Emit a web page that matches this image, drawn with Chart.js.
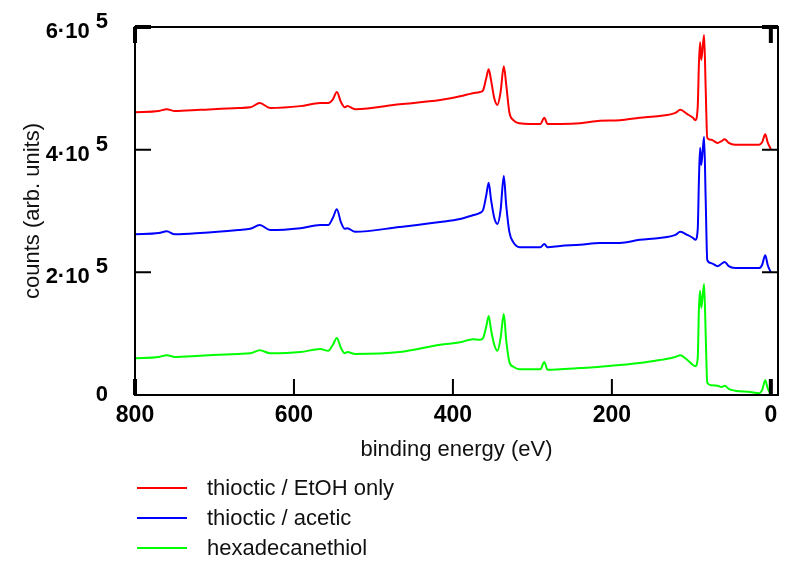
<!DOCTYPE html>
<html><head><meta charset="utf-8">
<script src="https://cdn.jsdelivr.net/npm/chart.js@4.4.0/dist/chart.umd.min.js"></script>
<style>
html,body{margin:0;padding:0;background:#fff;}
#wrap{position:relative;width:785px;height:563px;}
#legend{position:absolute;left:137px;top:473px;font-family:"Liberation Sans",Arial,sans-serif;font-size:22px;color:#111;}
.row{display:flex;align-items:center;height:30px;}
.swatch{width:50px;height:2px;margin-right:20px;}
</style></head><body>
<div id="wrap"><canvas id="c" width="785" height="563"></canvas><div id="legend"></div></div>
<script>
// binding energy (eV)
const energy = [800,770,760,750,718,670,655,643,630,592,567,557,551,546,541,536,533,523,467,416,391,375,366,362,358,355,352,348,344,340,336,333,329,324,316,303,290,285,281,265,240,215,190,165,140,120,114,105,98,95,92,90.5,89,87.5,84,82,80,75,67,62,58,53,45,26,15,11,7,4,0];
// counts
const thiocticEtOH = [461e3,463e3,466e3,463e3,465e3,468e3,469e3,476e3,468e3,471e3,476e3,476e3,482e3,494e3,478e3,469e3,471e3,466e3,474e3,481e3,487e3,492e3,494e3,497e3,517e3,531e3,513e3,484e3,473e3,494e3,536e3,507e3,461e3,448e3,443e3,442e3,442e3,452e3,442e3,442e3,443e3,447e3,448e3,452e3,455e3,460e3,465e3,458e3,452e3,448e3,470e3,540e3,575e3,546e3,587e3,500e3,419e3,416e3,411e3,414e3,417e3,411e3,408e3,408e3,408e3,412e3,425e3,412e3,401e3];
const thiocticAcetic = [262e3,264e3,267e3,262e3,264e3,269e3,271e3,277e3,269e3,272e3,277e3,277e3,289e3,303e3,282e3,271e3,272e3,266e3,274e3,282e3,287e3,293e3,297e3,302e3,326e3,346e3,318e3,289e3,279e3,302e3,357e3,310e3,266e3,249e3,241e3,241e3,241e3,246e3,241e3,243e3,245e3,248e3,248e3,253e3,256e3,261e3,266e3,261e3,256e3,253e3,270e3,350e3,403e3,375e3,421e3,320e3,220e3,215e3,210e3,214e3,217e3,210e3,207e3,207e3,207e3,212e3,228e3,212e3,200e3];
const hexadecanethiol = [60e3,62e3,65e3,62e3,64e3,67e3,68e3,73e3,68e3,70e3,75e3,72e3,82e3,93e3,77e3,68e3,70e3,67e3,70e3,82e3,86e3,91e3,90e3,93e3,112e3,129e3,106e3,82e3,72e3,93e3,132e3,90e3,54e3,46e3,42e3,42e3,42e3,54e3,41e3,42e3,44e3,46e3,49e3,52e3,57e3,62e3,65e3,57e3,49e3,47e3,60e3,140e3,170e3,142e3,181e3,100e3,20e3,16e3,15e3,13e3,15e3,10e3,7e3,5e3,3e3,8e3,24e3,11e3,0];
const seriesNames = ['thioctic / EtOH only','thioctic / acetic','hexadecanethiol'];
const seriesColors = ['#ff0000','#0000ff','#00ff00'];
const xTickValues = [800,600,400,200,0];
const xTickLabels = ['800','600','400','200','0'];
const yTickValues = [0,200000,400000,600000];
// exponent line above mantissa line
const yTickLabels = [['0'],['5','2·10   '],['5','4·10   '],['5','6·10   ']];

const seriesValues = [thiocticEtOH, thiocticAcetic, hexadecanethiol];
const datasets = seriesValues.map((vals,i)=>({
  label: seriesNames[i],
  data: energy.map((e,j)=>({x:e,y:vals[j]})),
  borderColor: seriesColors[i],
  backgroundColor: seriesColors[i],
  borderWidth: 2,
  pointRadius: 0,
  fill: false,
  cubicInterpolationMode: 'monotone'
}));

const frameTicks = {
  id:'frameTicks',
  afterDatasetsDraw(chart){
    const {ctx, chartArea:a, scales:{x,y}} = chart;
    ctx.save();
    ctx.strokeStyle='#000';
    ctx.lineWidth=2;
    ctx.strokeRect(a.left,a.top,a.right-a.left,a.bottom-a.top);
    const L=16;
    ctx.beginPath();
    yTickValues.forEach(v=>{
      if(v===yTickValues[0]||v===yTickValues[yTickValues.length-1]) return;
      const py=y.getPixelForValue(v);
      ctx.moveTo(a.left,py); ctx.lineTo(a.left+L,py);
      ctx.moveTo(a.right,py); ctx.lineTo(a.right-L,py);
    });
    xTickValues.forEach(v=>{
      const px=x.getPixelForValue(v);
      ctx.moveTo(px,a.bottom); ctx.lineTo(px,a.bottom-L);
    });
    ctx.stroke();
    ctx.lineWidth=4;
    ctx.beginPath();
    const ytop=y.getPixelForValue(yTickValues[yTickValues.length-1]);
    ctx.moveTo(a.left,ytop); ctx.lineTo(a.left+L,ytop);
    ctx.moveTo(a.right,ytop); ctx.lineTo(a.right-L,ytop);
    [xTickValues[0], xTickValues[xTickValues.length-1]].forEach(v=>{
      const px=x.getPixelForValue(v);
      ctx.moveTo(px,a.top); ctx.lineTo(px,a.top+L);
      ctx.moveTo(px,a.bottom); ctx.lineTo(px,a.bottom-L);
    });
    ctx.stroke();
    ctx.restore();
  }
};

const chart = new Chart(document.getElementById('c'), {
  type:'line',
  data:{datasets},
  options:{
    responsive:false,
    animation:false,
    events:[],
    layout:{autoPadding:false,padding:{left:0,right:7,top:27,bottom:98}},
    plugins:{legend:{display:false},tooltip:{enabled:false}},
    scales:{
      x:{
        type:'linear', reverse:true, min:-9, max:800,
        grid:{display:false,drawTicks:false}, border:{display:false},
        afterBuildTicks:s=>{s.ticks=xTickValues.map(v=>({value:v}));},
        afterFit:s=>{s.height=70;s.paddingLeft=0;s.paddingRight=0;},
        ticks:{autoSkip:false,maxRotation:0,padding:7,color:'#000',
          font:{family:'"Liberation Sans", Arial, sans-serif',size:23,weight:'bold'},
          callback:(v)=>xTickLabels[xTickValues.indexOf(v)]},
        title:{display:true,text:'binding energy (eV)',color:'#111',padding:{top:0,bottom:2},
          font:{family:'"Liberation Sans", Arial, sans-serif',size:22}}
      },
      y:{
        type:'linear', min:0, max:600000,
        grid:{display:false,drawTicks:false}, border:{display:false},
        afterBuildTicks:s=>{s.ticks=yTickValues.map(v=>({value:v}));},
        afterFit:s=>{s.width=135;s.paddingTop=0;s.paddingBottom=0;},
        ticks:{autoSkip:false,padding:27,color:'#000',
          font:{family:'"Liberation Sans", Arial, sans-serif',size:22,weight:'bold',lineHeight:0.45},
          callback:(v)=>yTickLabels[yTickValues.indexOf(v)]},
        title:{display:true,text:'counts (arb. units)',color:'#111',padding:{top:20,bottom:0},
          font:{family:'"Liberation Sans", Arial, sans-serif',size:22}}
      }
    }
  },
  plugins:[frameTicks]
});

const leg = document.getElementById('legend');
chart.data.datasets.forEach(ds=>{
  const row=document.createElement('div'); row.className='row';
  const sw=document.createElement('span'); sw.className='swatch'; sw.style.background=ds.borderColor;
  const tx=document.createElement('span'); tx.textContent=ds.label;
  row.appendChild(sw); row.appendChild(tx); leg.appendChild(row);
});
</script>
</body></html>
